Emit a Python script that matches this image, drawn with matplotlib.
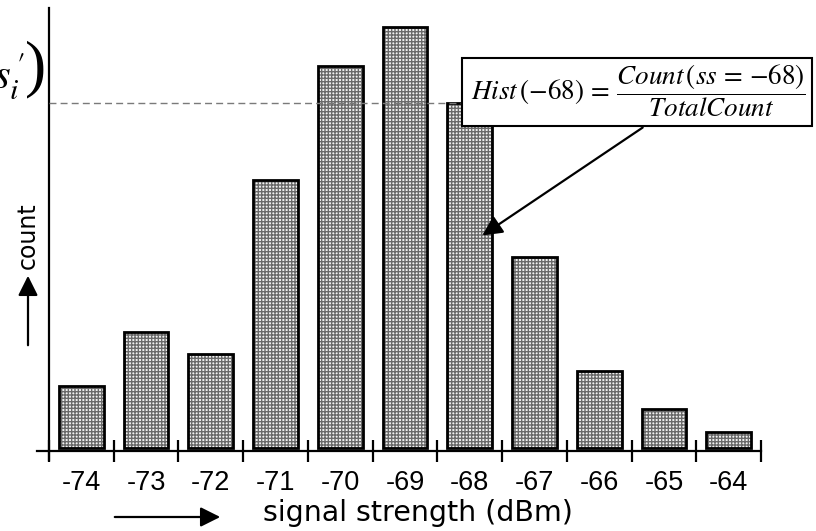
import matplotlib
matplotlib.use("Agg")
import matplotlib.pyplot as plt
from matplotlib.patches import Rectangle, FancyArrowPatch

# ---- data ----
signal_dbm = [-74, -73, -72, -71, -70, -69, -68, -67, -66, -65, -64]
counts = [62, 116, 94, 268, 382, 421, 345, 191, 77, 39, 16]
tick_labels = [str(v) for v in signal_dbm]
hist_level = 348  # dashed reference level (count of -68 bin)

W, H = 816, 531
fig = plt.figure(figsize=(W / 100, H / 100), dpi=100)
plt.rcParams["mathtext.fontset"] = "stix"

def fx(px):
    return px / W

def fy(py):
    return 1 - py / H

# axes in pixel geometry
ax_left, ax_right, ax_top, ax_bottom = 37, 762, 8, 460
ax = fig.add_axes([fx(ax_left), fy(ax_bottom), fx(ax_right - ax_left), (ax_bottom - ax_top) / H])
ax.patch.set_alpha(0)

x0 = signal_dbm[0] - 0.5
x1 = signal_dbm[-1] + 0.5
px_per_bin = (761 - 49) / len(signal_dbm)
ax.set_xlim(x0 - (49 - ax_left) / px_per_bin, x0 + (ax_right - 49) / px_per_bin)
ax.set_ylim(-9, 443)

# bars: hatched fill, then black outline
bw = 0.69
ax.bar(signal_dbm, counts, width=bw, bottom=3, color="#f2f2f2", edgecolor="#6a6a6a",
       hatch="+++++", linewidth=0, zorder=2)
ax.bar(signal_dbm, counts, width=bw, bottom=3, fill=False, edgecolor="black",
       linewidth=2.0, zorder=3)

# spines
for s in ["top", "right"]:
    ax.spines[s].set_visible(False)
ax.spines["left"].set_position(("data", x0))
ax.spines["bottom"].set_position(("data", 0))
ax.spines["left"].set_linewidth(1.6)
ax.spines["bottom"].set_linewidth(1.6)
ax.spines["bottom"].set_bounds(ax.get_xlim()[0], x1)

# ticks
ax.set_yticks([])
ax.set_xticks(signal_dbm)
ax.set_xticklabels(tick_labels, fontsize=19.5, family="Liberation Sans")
ax.tick_params(axis="x", which="major", length=0, pad=14)
ax.set_xticks([v - 0.5 for v in signal_dbm] + [x1], minor=True)
ax.tick_params(axis="x", which="minor", direction="inout", length=16, width=1.6)

# dashed reference line
ax.plot([x0, -68], [hist_level, hist_level], linestyle=(0, (5, 3)), color="#7a7a7a",
        linewidth=1.0, zorder=4)

# formula box
bx0, by0, bx1, by1 = 462, 58, 812, 126
box = Rectangle((fx(bx0), fy(by1)), fx(bx1 - bx0), (by1 - by0) / H, transform=fig.transFigure,
                facecolor="white", edgecolor="black", linewidth=1.5, zorder=10)
fig.add_artist(box)
fig.text(fx((bx0 + bx1) / 2 + 1), fy((by0 + by1) / 2 - 1),
         r"$Hist\,(-68)\,=\,\dfrac{Count\,(ss\,=\,{-}68)}{TotalCount}$",
         ha="center", va="center", fontsize=19.5, zorder=11)

# arrow from box to bar
fig.add_artist(FancyArrowPatch(
    (fx(645), fy(126)), (fx(480), fy(237)), transform=fig.transFigure,
    arrowstyle="-|>", mutation_scale=30, linewidth=1.6, color="black", zorder=12))

# y label + arrow
fig.text(fx(28), fy(236), "count", rotation=90, ha="center", va="center",
         fontsize=17, family="DejaVu Sans")
fig.add_artist(FancyArrowPatch(
    (fx(28), fy(348)), (fx(28), fy(273)), transform=fig.transFigure,
    arrowstyle="-|>", mutation_scale=30, linewidth=1.6, color="black"))

# x label + arrow
fig.text(fx(418), fy(513), "signal strength (dBm)", ha="center", va="center",
         fontsize=20.5, family="DejaVu Sans")
fig.add_artist(FancyArrowPatch(
    (fx(112), fy(517)), (fx(223), fy(517)), transform=fig.transFigure,
    arrowstyle="-|>", mutation_scale=30, linewidth=1.6, color="black"))

# clipped P(s_i') label at top-left (left part cut by the figure edge, as in the source)
fig.text(fx(-7), fy(76), r"$s_i^{\,\prime}$", ha="left", va="center", fontsize=31)
fig.text(fx(36), fy(69), ")", ha="center", va="center", fontsize=46,
         family="Liberation Serif")

fig.savefig("out.png", dpi=100)
